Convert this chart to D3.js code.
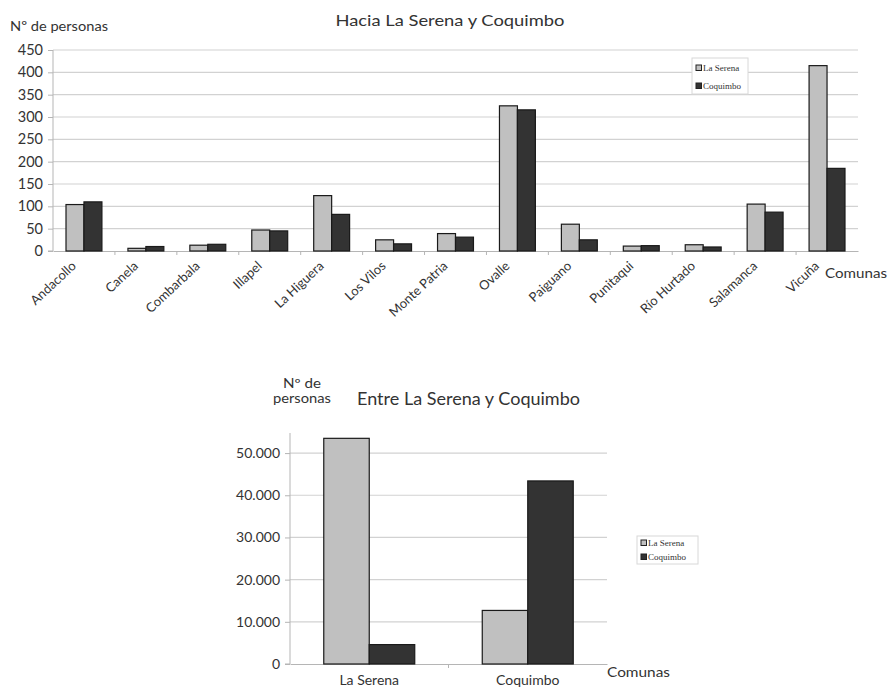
<!DOCTYPE html>
<html>
<head>
<meta charset="utf-8">
<script src="https://cdn.jsdelivr.net/npm/d3@7"></script>
<style>
  html, body { margin: 0; padding: 0; background: #fff; }
  svg { display: block; }
  text { font-family: Lato, "Open Sans", sans-serif; fill: #333; }
  .leg text { font-family: "Liberation Serif", serif; }
</style>
</head>
<body>
<svg id="chart" width="890" height="690"></svg>
<script>
// ---- Data: chart 1 (Hacia La Serena y Coquimbo) ----
const comunas = ["Andacollo", "Canela", "Combarbala", "Illapel", "La Higuera", "Los Vilos",
  "Monte Patria", "Ovalle", "Paiguano", "Punitaqui", "Río Hurtado", "Salamanca", "Vicuña"];
const laSerena1 = [104, 6, 13, 47, 124, 25, 39, 325, 60, 11, 14, 105, 415];
const coquimbo1 = [110, 10, 15, 45, 82, 16, 31, 316, 25, 12, 9, 87, 185];
const ticks1 = [0, 50, 100, 150, 200, 250, 300, 350, 400, 450];

// ---- Data: chart 2 (Entre La Serena y Coquimbo) ----
const destinos = ["La Serena", "Coquimbo"];
const laSerena2 = [53500, 12700];
const coquimbo2 = [4600, 43400];
const ticks2 = [0, 10000, 20000, 30000, 40000, 50000];

const seriesNames = ["La Serena", "Coquimbo"];
const colors = { "La Serena": "#c0c0c0", "Coquimbo": "#333333" };

const svg = d3.select("#chart");

function label(x, y, txt, size, width, anchor) {
  const t = svg.append("text").attr("x", x).attr("y", y).attr("font-size", size)
    .attr("text-anchor", anchor || "start").text(txt);
  if (width) t.attr("textLength", width).attr("lengthAdjust", "spacingAndGlyphs");
  return t;
}

function drawChart(cfg) {
  const g = svg.append("g");
  const y = d3.scaleLinear().domain(cfg.domain).range([cfg.bottom, cfg.top]);
  const x0 = d3.scaleBand().domain(cfg.cats).range([cfg.left, cfg.right]).padding(0);
  const gw = x0.bandwidth() * cfg.groupFrac;
  const x1 = d3.scaleBand().domain(seriesNames).range([(x0.bandwidth() - gw) / 2, (x0.bandwidth() + gw) / 2]).padding(0);

  // gridlines
  g.append("g").selectAll("line").data(cfg.ticks.filter(t => t > 0)).join("line")
    .attr("x1", cfg.left).attr("x2", cfg.right)
    .attr("y1", d => y(d)).attr("y2", d => y(d))
    .attr("stroke", "#d2d2d2").attr("stroke-width", 1.2);

  // y axis
  const ya = g.append("g").attr("transform", `translate(${cfg.left},0)`)
    .call(d3.axisLeft(y).tickValues(cfg.ticks).tickFormat(cfg.fmt).tickSize(5).tickPadding(cfg.tickPad));
  ya.select(".domain").attr("stroke", "#b5b5b5").attr("d", `M-5,${cfg.bottom}H0V${cfg.axisTop}`);
  ya.selectAll(".tick line").attr("stroke", "#b5b5b5");
  ya.selectAll(".tick text").attr("font-family", "Lato, sans-serif").attr("font-size", cfg.tickFont).attr("fill", "#333");

  // x axis
  const xa = g.append("g").attr("transform", `translate(0,${cfg.bottom})`)
    .call(d3.axisBottom(x0).tickSize(0).tickFormat(""));
  xa.select(".domain").attr("stroke", "#b5b5b5").attr("stroke-width", 1.2);
  g.append("g").selectAll("line").data(cfg.cats.slice(1)).join("line")
    .attr("x1", d => x0(d)).attr("x2", d => x0(d))
    .attr("y1", cfg.bottom).attr("y2", cfg.bottom + 4)
    .attr("stroke", "#b5b5b5");

  // bars
  const rows = cfg.cats.map((c, i) => ({ cat: c, vals: [
    { s: "La Serena", v: cfg.s1[i] }, { s: "Coquimbo", v: cfg.s2[i] }] }));
  g.append("g").selectAll("g").data(rows).join("g")
    .attr("transform", d => `translate(${x0(d.cat)},0)`)
    .selectAll("rect").data(d => d.vals).join("rect")
    .attr("x", d => x1(d.s)).attr("width", x1.bandwidth())
    .attr("y", d => y(d.v)).attr("height", d => y(0) - y(d.v))
    .attr("fill", d => colors[d.s]).attr("stroke", "#1a1a1a").attr("stroke-width", 1.2);

  // category labels
  const lab = g.append("g").selectAll("text").data(cfg.cats).join("text")
    .attr("font-size", cfg.catFont);
  if (cfg.rotate) {
    lab.attr("text-anchor", "end")
      .attr("transform", d => `translate(${x0(d) + x0.bandwidth() / 2 - 7},${cfg.bottom + 16}) rotate(-43)`)
      .text(d => d);
  } else {
    lab.attr("text-anchor", "middle")
      .attr("x", d => x0(d) + x0.bandwidth() / 2).attr("y", cfg.labelY)
      .text(d => d);
  }

  // legend
  const lg = g.append("g").attr("class", "leg").attr("transform", `translate(${cfg.leg.x},${cfg.leg.y})`);
  lg.append("rect").attr("width", cfg.leg.w).attr("height", cfg.leg.h)
    .attr("fill", "#fff").attr("stroke", "#d8d8d8");
  seriesNames.forEach((s, i) => {
    lg.append("rect").attr("x", 4).attr("y", cfg.leg.pad + i * cfg.leg.gap - 6)
      .attr("width", 5.5).attr("height", 5.5).attr("fill", colors[s]).attr("stroke", "#222").attr("stroke-width", 1);
    lg.append("text").attr("x", 11).attr("y", cfg.leg.pad + i * cfg.leg.gap)
      .attr("font-size", 9).attr("fill", "#555").text(s);
  });
  return { x0, y };
}

// ---- Chart 1 ----
drawChart({
  cats: comunas, s1: laSerena1, s2: coquimbo1, ticks: ticks1,
  domain: [0, 450], top: 50, bottom: 251, axisTop: 50, left: 53, right: 858,
  groupFrac: 0.58, fmt: d3.format("d"), tickPad: 5, tickFont: 14.5, catFont: 13, rotate: true,
  leg: { x: 692, y: 58, w: 56, h: 36, pad: 13, gap: 18 }
});
label(450, 26, "Hacia La Serena y Coquimbo", 16, 229, "middle");
label(10, 31, "Nº de personas", 13.5, 98);
label(825, 278, "Comunas", 14, 62);

// ---- Chart 2 ----
drawChart({
  cats: destinos, s1: laSerena2, s2: coquimbo2, ticks: ticks2,
  domain: [0, 55000], top: 432, bottom: 664, axisTop: 433, left: 290, right: 607,
  groupFrac: 0.574, fmt: d => d3.format(",")(d).replace(/,/g, "."), tickPad: 5, tickFont: 14, catFont: 14, rotate: false,
  labelY: 685,
  leg: { x: 637, y: 536, w: 61, h: 28, pad: 10, gap: 14 }
});
label(357, 405, "Entre La Serena y Coquimbo", 17, 223);
label(302, 388, "Nº de", 13, 38, "middle");
label(302, 403, "personas", 13, 58, "middle");
label(607, 677, "Comunas", 14, 63);
</script>
</body>
</html>
